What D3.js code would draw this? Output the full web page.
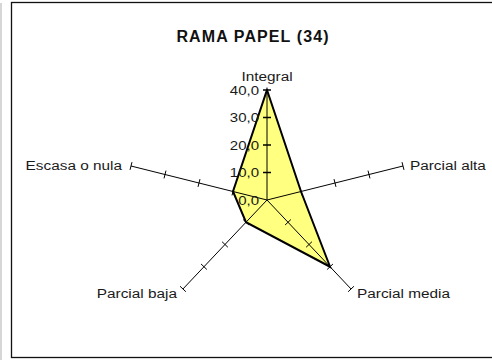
<!DOCTYPE html>
<html>
<head>
<meta charset="utf-8">
<script src="https://cdn.jsdelivr.net/npm/d3@7"></script>
<style>
  html, body { margin: 0; padding: 0; background: #fff; }
  svg { display: block; }
  text { font-family: "Liberation Sans", Arial, sans-serif; fill: #111; }
</style>
</head>
<body>
<script>
const title = "RAMA PAPEL (34)";
const categories = ["Integral", "Parcial alta", "Parcial media", "Parcial baja", "Escasa o nula"];
const values = [40, 10, 30, 10, 10];
const tickValues = [0, 10, 20, 30, 40];
const tickLabels = ["0,0", "10,0", "20,0", "30,0", "40,0"];

const W = 492, H = 360;
const cx = 267, cy = 200, rx = 143, ry = 110;
const sx = 1.28; // horizontal text stretch of the original

const svg = d3.select("body").append("svg").attr("width", W).attr("height", H);

// frame
svg.append("line").attr("x1", 1).attr("x2", 1).attr("y1", 3).attr("y2", 360)
  .attr("stroke", "#c8c8c8").attr("stroke-width", 1.5);
svg.append("rect").attr("x", 11.5).attr("y", 2.5).attr("width", 490).attr("height", 355)
  .attr("fill", "none").attr("stroke", "#111").attr("stroke-width", 1.3);

const r = d3.scaleLinear().domain([0, 40]).range([0, 1]);
const angle = d3.scalePoint().domain(categories).range([0, 2 * Math.PI * (categories.length - 1) / categories.length]);

function pt(cat, v) {
  const a = angle(cat);
  return [cx + rx * r(v) * Math.sin(a), cy - ry * r(v) * Math.cos(a)];
}

function stretchedText(g, x, y, txt, anchor, size, weight, scale) {
  return g.append("text")
    .attr("transform", `translate(${x},${y}) scale(${scale},1)`)
    .attr("text-anchor", anchor)
    .attr("font-size", size)
    .attr("font-weight", weight || "normal")
    .text(txt);
}

// polygon
const line = d3.line().curve(d3.curveLinearClosed);
svg.append("path")
  .attr("d", line(categories.map((c, i) => pt(c, values[i]))))
  .attr("fill", "#ffff80")
  .attr("stroke", "none");

// axes
categories.forEach(c => {
  const e = pt(c, 40);
  svg.append("line").attr("x1", cx).attr("y1", cy).attr("x2", e[0]).attr("y2", e[1])
    .attr("stroke", "#000").attr("stroke-width", 1);
  const a = angle(c);
  const dx = rx * Math.sin(a), dy = -ry * Math.cos(a);
  const len = Math.hypot(dx, dy);
  const px = -dy / len, py = dx / len;
  tickValues.slice(1).forEach(t => {
    const p = pt(c, t);
    const h = 4;
    svg.append("line")
      .attr("x1", p[0] - px * h).attr("y1", p[1] - py * h)
      .attr("x2", p[0] + px * h).attr("y2", p[1] + py * h)
      .attr("stroke", "#000").attr("stroke-width", c === "Integral" ? 1.5 : 1);
  });
});

// polygon outline
svg.append("path")
  .attr("d", line(categories.map((c, i) => pt(c, values[i]))))
  .attr("fill", "none")
  .attr("stroke", "#000")
  .attr("stroke-width", 2)
  .attr("stroke-linejoin", "miter");

// tick labels on Integral axis
tickValues.forEach((t, i) => {
  const p = pt("Integral", t);
  stretchedText(svg, p[0] - 8, p[1] + 4.5, tickLabels[i], "end", 12, "normal", 1.25)
    .style("fill", "#1a1a1a");
});

// category labels
categories.forEach(c => {
  const e = pt(c, 40);
  const a = angle(c);
  const s = Math.sin(a), co = Math.cos(a);
  let x, y, anchor;
  if (Math.abs(s) < 0.01) { x = e[0]; y = e[1] - 9; anchor = "middle"; }
  else if (co > 0) { x = e[0] + (s > 0 ? 7 : -9); y = e[1] + 4; anchor = s > 0 ? "start" : "end"; }
  else { x = e[0] + (s > 0 ? 6 : -6); y = e[1] + 9; anchor = s > 0 ? "start" : "end"; }
  stretchedText(svg, x, y, c, anchor, 12, "normal", sx).style("fill", "#1a1a1a");
});

// title
stretchedText(svg, 253, 42, title, "middle", 16, "bold", 1.0)
  .attr("letter-spacing", 1.1).style("fill", "#111");
</script>
</body>
</html>
